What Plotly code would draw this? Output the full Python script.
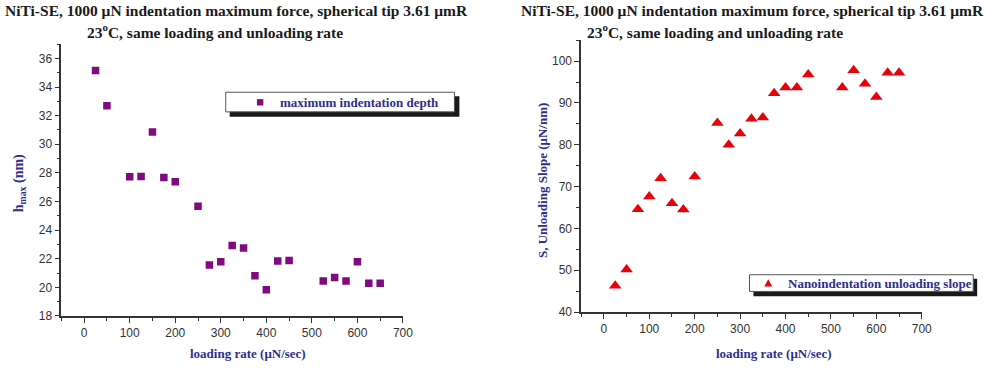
import plotly.graph_objects as go

# ---- data ----
rate_left = [25, 50, 100, 125, 150, 175, 200, 250, 275, 300, 325, 350, 375, 400,
             425, 450, 525, 550, 575, 600, 625, 650]
hmax = [35.15, 32.7, 27.73, 27.75, 30.86, 27.68, 27.38, 25.67, 21.56, 21.79, 22.93,
        22.75, 20.81, 19.83, 21.84, 21.88, 20.44, 20.69, 20.44, 21.79, 20.28, 20.28]

rate_right = [25, 50, 75, 100, 125, 150, 175, 200, 250, 275, 300, 325, 350, 375,
              400, 425, 450, 525, 550, 575, 600, 625, 650]
slope = [46.3, 50.2, 64.6, 67.6, 72.0, 66.0, 64.5, 72.4, 85.2, 80.0, 82.7, 86.2,
         86.5, 92.3, 93.7, 93.7, 96.8, 93.7, 97.8, 94.6, 91.4, 97.2, 97.2]

x_ticks = [0, 100, 200, 300, 400, 500, 600, 700]
left_ticks = [18, 20, 22, 24, 26, 28, 30, 32, 34, 36]
right_ticks = [40, 50, 60, 70, 80, 90, 100]

title_l1 = "NiTi-SE, 1000 μN indentation maximum force, spherical tip 3.61 μmR"
title_l2 = "23<sup>o</sup>C, same loading and unloading rate"
xlabel = "loading rate (μN/sec)"
ylabel_left = "h<sub>max</sub> (nm)"
ylabel_right = "S, Unloading Slope (μN/nm)"
legend_left = "maximum indentation depth"
legend_right = "Nanoindentation unloading slope"

W, H = 1006, 373
SERIF = "Liberation Serif"
SANS = "Liberation Sans"
INDIGO = "#2e2e8c"
AX = "#333333"

fig = go.Figure()
fig.add_trace(go.Scatter(x=rate_left, y=hmax, mode="markers", xaxis="x", yaxis="y",
                         marker=dict(symbol="square", size=7.5, color="#800a7e",
                                     line=dict(width=0)), showlegend=False))
fig.add_trace(go.Scatter(x=rate_right, y=slope, mode="markers", xaxis="x2", yaxis="y2",
                         marker=dict(symbol="triangle-up", size=11, color="#e8000b",
                                     line=dict(width=0)), showlegend=False))

def px(x):
    return x / W

def py(y):
    return 1 - y / H

axis_common = dict(showgrid=False, zeroline=False, showline=True, linecolor=AX,
                   linewidth=1.5, ticks="outside", ticklen=5, tickwidth=1.2,
                   tickcolor=AX, tickfont=dict(family=SANS, size=12, color=AX),
                   fixedrange=True)

fig.update_layout(
    width=W, height=H, autosize=False,
    margin=dict(l=0, r=0, t=0, b=0),
    paper_bgcolor="white", plot_bgcolor="white",
    xaxis=dict(domain=[px(62), px(407)], range=[-50, 700], tickvals=x_ticks,
               minor=dict(dtick=50, ticks="outside", ticklen=3, tickcolor=AX),
               anchor="y", **axis_common),
    yaxis=dict(domain=[py(322), py(45)], range=[18, 37], tickvals=left_ticks,
               minor=dict(dtick=1, ticks="outside", ticklen=3, tickcolor=AX),
               anchor="x", **axis_common),
    xaxis2=dict(domain=[px(587), px(931)], range=[-50, 700], tickvals=x_ticks,
                minor=dict(dtick=50, ticks="outside", ticklen=3, tickcolor=AX),
                anchor="y2", **axis_common),
    yaxis2=dict(domain=[py(318), py(41)], range=[40, 105], tickvals=right_ticks,
                minor=dict(dtick=5, ticks="outside", ticklen=3, tickcolor=AX),
                anchor="x2", **axis_common),
)

ann = []
def text(x, y, s, size, color, family=SERIF, angle=0, xanchor="center"):
    ann.append(dict(x=px(x), y=py(y), xref="paper", yref="paper", text="<b>" + s + "</b>",
                    showarrow=False, xanchor=xanchor, yanchor="middle", textangle=angle,
                    font=dict(family=family, size=size, color=color)))

# titles
text(239, 11, title_l1, 15.5, "#1a1a1a")
text(217, 32, title_l2, 15.5, "#1a1a1a")
text(760, 11, title_l1, 15.5, "#1a1a1a")
text(722, 32, title_l2, 15.5, "#1a1a1a")
# axis titles
text(250, 360, xlabel, 13, INDIGO)
text(782, 360, xlabel, 13, INDIGO)
text(20, 187, ylabel_left, 14, INDIGO, angle=-90)
text(548, 184, ylabel_right, 13, INDIGO, angle=-90)
# legend texts
text(281, 104, legend_left, 13, INDIGO, xanchor="left")
text(794, 289, legend_right, 13, INDIGO, xanchor="left")

shapes = []
def rect(x0, y0, x1, y1, fill, line=None, lw=0):
    shapes.append(dict(type="rect", xref="paper", yref="paper",
                       x0=px(x0), x1=px(x1), y0=py(y1), y1=py(y0),
                       fillcolor=fill, line=dict(color=line or fill, width=lw)))

# left legend: shadow, box, symbol
rect(232, 98, 464, 119, "#1a1a1a")
rect(228, 94, 459, 114, "white", "#555555", 1)
rect(259.5, 101, 266, 107.5, "#800a7e")
# right legend
rect(761, 284, 987, 302, "#1a1a1a")
rect(757, 280, 983, 297, "white", "#555555", 1)
shapes.append(dict(type="path", xref="paper", yref="paper",
                   path="M {} {} L {} {} L {} {} Z".format(px(772), py(292), px(780), py(292),
                                                             px(776), py(284.5)),
                   fillcolor="#e8000b", line=dict(width=0)))

fig.update_layout(annotations=ann, shapes=shapes)
fig.write_html("out.html")
